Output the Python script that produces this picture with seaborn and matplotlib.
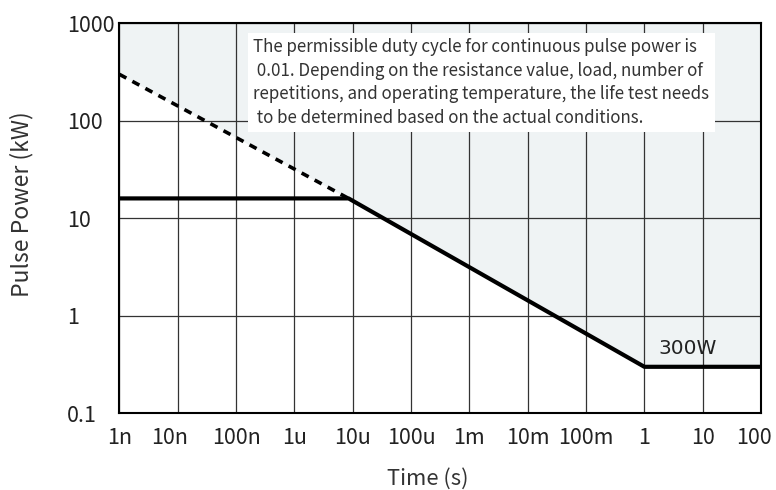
import matplotlib
matplotlib.use("Agg")
import matplotlib.pyplot as plt
import matplotlib.transforms as mtransforms
import pandas as pd
import seaborn as sns

# Data (time in s, power in kW)
rated_time = [1e-9, 8.5e-6, 1.0, 100.0]
rated_power = [16, 16, 0.3, 0.3]
limit_time = [1e-9, 8.5e-6]
limit_power = [300, 16]
x_ticks = [1e-9, 1e-8, 1e-7, 1e-6, 1e-5, 1e-4, 1e-3, 1e-2, 1e-1, 1, 10, 100]
x_labels = ["1n", "10n", "100n", "1u", "10u", "100u", "1m", "10m", "100m", "1", "10", "100"]
y_ticks = [0.1, 1, 10, 100, 1000]
y_labels = ["0.1", "1", "10", "100", "1000"]
note = ("The permissible duty cycle for continuous pulse power is\n"
        " 0.01. Depending on the resistance value, load, number of\n"
        "repetitions, and operating temperature, the life test needs\n"
        " to be determined based on the actual conditions.")

sns.set_style("white")
plt.rcParams["font.family"] = ["Noto Sans CJK SC", "DejaVu Sans"]
plt.rcParams["font.weight"] = 300

df_rated = pd.DataFrame({"time": rated_time, "power": rated_power})
df_limit = pd.DataFrame({"time": limit_time, "power": limit_power})

fig = plt.figure(figsize=(7.76, 4.9), dpi=100)
ax = fig.add_axes([0.1538, 0.1565, 0.8269, 0.7959])
ax.set_xscale("log")
ax.set_yscale("log")

# Shaded region above the limit envelope
env_t = limit_time + rated_time[2:]
env_p = limit_power + rated_power[2:]
ax.fill_between(env_t, env_p, 1000, color="#eff3f4", lw=0, zorder=0)

sns.lineplot(data=df_limit, x="time", y="power", ax=ax, color="black",
             lw=2.6, linestyle=(0, (2.2, 1.9)), zorder=3)
sns.lineplot(data=df_rated, x="time", y="power", ax=ax, color="black",
             lw=3, zorder=4)

ax.set_xlim(1e-9, 100)
ax.set_ylim(0.1, 1000)
ax.set_xticks(x_ticks)
ax.set_xticklabels(x_labels)
ax.set_yticks(y_ticks)
ax.set_yticklabels(y_labels)
ax.minorticks_off()
ax.grid(True, which="major", color="#333333", lw=0.9, zorder=1)
ax.set_axisbelow(True)
ax.tick_params(axis="both", length=0, labelsize=15.5, colors="#222222")
ax.tick_params(axis="x", pad=10)
ax.tick_params(axis="y", pad=37.5)
for lab in ax.get_yticklabels():
    lab.set_horizontalalignment("left")

# nudge a couple of x labels like in the original
xlabs = ax.get_xticklabels()
for idx, dx in [(1, -8), (11, -7)]:
    off = mtransforms.ScaledTranslation(dx / 100, 0, fig.dpi_scale_trans)
    xlabs[idx].set_transform(xlabs[idx].get_transform() + off)

for side in ["left", "bottom", "top", "right"]:
    ax.spines[side].set_color("black")
    ax.spines[side].set_linewidth(1.5)
ax.set_xlabel("")
ax.set_ylabel("")

ax.text(0.209, 0.962, note, transform=ax.transAxes, ha="left", va="top",
        fontsize=12.2, color="#333333", linespacing=1.39, zorder=5,
        bbox=dict(facecolor="white", edgecolor="none", pad=4))
ax.text(0.84, 0.165, "300W", transform=ax.transAxes, ha="left", va="center",
        fontsize=14.5, color="#222222", family="DejaVu Sans", fontweight="normal")

fig.text(0.028, 0.584, "Pulse Power (kW)", rotation=90, ha="center", va="center",
         fontsize=16.5, color="#333333")
fig.text(0.551, 0.022, "Time (s)", ha="center", va="center",
         fontsize=15.8, color="#333333")

fig.savefig("out.png", dpi=100)
